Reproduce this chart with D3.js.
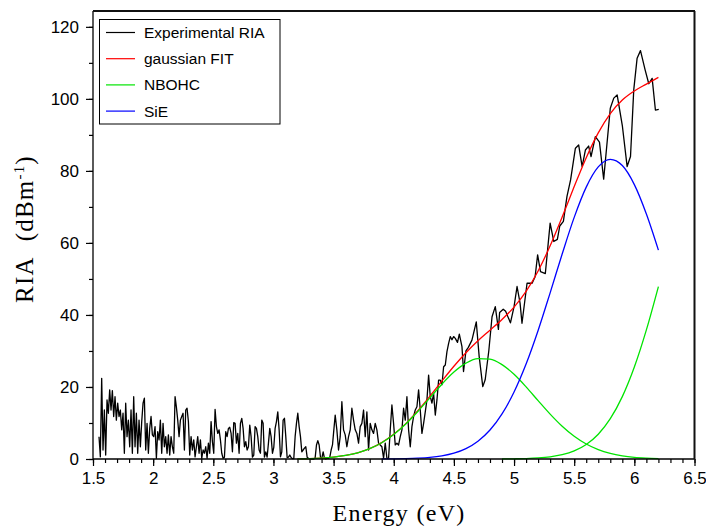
<!DOCTYPE html>
<html><head><meta charset="utf-8">
<script src="https://cdn.jsdelivr.net/npm/d3@7/dist/d3.min.js"></script>
<style>body{margin:0;background:#fff}svg{display:block}</style>
</head><body>
<svg id="chart" width="706" height="530"></svg>
<script>
// ---------- DATA ----------
// Experimental RIA, low-energy part: uniform energy grid
const lowStart = 1.55, lowStep = 0.01109;
const lowValues = [
6.2,0.6,22.4,2.5,13.6,1.1,16.4,12.7,19.2,13.6,
19.0,11.8,17.3,10.8,15.5,11.8,13.6,8.1,12.7,1.6,
15.5,6.2,10.8,3.4,13.6,1.6,17.3,3.4,12.7,1.6,
10.8,3.4,10.3,15.5,16.9,2.5,9.9,1.6,8.5,11.8,
6.7,6.2,9.0,0.2,7.6,5.3,10.8,1.6,9.9,3.4,
6.2,1.6,6.7,1.1,6.2,3.4,1.6,17.3,14.4,10.8,
6.2,10.8,11.8,12.7,2.5,13.6,14.1,10.4,1.1,6.2,
2.5,5.3,0.6,3.4,6.2,1.6,5.3,0.2,2.5,1.6,
3.4,0.2,4.4,1.6,10.4,
4.8,1.6,13.8,9.0,7.1,8.1,5.3,1.6,0.2,0.5,
7.6,6.2,8.5,8.8,7.1,2.0,10.1,9.9,4.4,7.1,
1.6,9.9,11.3,8.5,3.4,4.8,2.5,3.4,9.4,6.2,
0.5,1.1,9.0,8.5,6.2,2.5,1.6,10.8,9.9,0.5,
2.0,0.5,4.4,8.5,6.2,1.6,3.2,8.5,10.4,13.1,
8.1,0.6,2.0,10.8,11.3,6.2,0.4,0.5,1.1,0.4,
0.1,0.1,6.2,9.9,12.7,9.0,6.2,2.0,2.5,3.0,
3.4,0.5,0.2,0,0,0,0,0.3,3.9,5.1,
3.9,0.5,0.2,2.0,0.2,0,0.2,0.2,0.5,2.5,
3.9];
// Experimental RIA, middle part
const midStart = 3.4994, midStep = 0.013866;
const midValues = [
7.1,12.2,8.1,2.5,6.2,15.9,8.1,6.7,3.4,6.2,
8.1,14.1,10.8,8.1,7.1,4.4,9.0,9.9,13.6,6.2,
13.1,2.5,9.9,8.1,7.1,9.9,8.1,4.4,3.9,3.4,
0.2,4.4,0.2,0.2,8.1,15.0,9.9,3.9,4.4,3.9,
6.2,8.1,14.1,10.8,17.3,8.1,3.4,9.0,11.8,13.6,
14.5,19.2,13.6,7.1,9.9,13.1,16.4,23.3,17.3,15.5,
18.2,12.2,16.4,21.9,21.9,20.6,25.6,26.1,29.8,32.1,
34.0,33.1,34.0,33.5];
// Experimental RIA, high-energy part
const highEnergy = [4.53,4.545,4.567,4.58,4.60,4.62,4.65,4.686,4.71,4.74,4.76,4.79,4.817,4.844,4.87,4.88,4.91,4.93,4.97,5.0,5.025,5.05,5.066,5.108,5.15,5.175,5.196,5.22,5.26,5.30,5.33,5.36,5.38,5.41,5.44,5.47,5.51,5.537,5.566,5.593,5.62,5.64,5.676,5.71,5.745,5.80,5.829,5.857,5.90,5.94,5.968,5.995,6.023,6.051,6.09,6.12,6.148,6.175,6.203];
const highValues = [32.4,34.7,31.2,24.3,30,31,33,38.1,28.5,20.1,22,30,39.5,42.3,36,40.7,41.6,41,37.8,42.3,47.9,43.3,37.7,48.8,48.8,50.6,56.7,52,51.5,65.5,60.4,61,64.7,66,72.9,77.5,86.3,87.2,81.2,85.8,86.9,84,89.5,88,77.7,97.4,100.2,101.1,92.6,81.2,84,102.5,111.3,113.4,108,104.2,105.7,96.9,97.1];

// Fitted curves sampled every 0.1 eV
const fitEnergy = [3.2,3.3,3.4,3.5,3.6,3.7,3.8,3.9,4.0,4.1,4.2,4.3,4.4,4.5,4.6,4.7,4.8,4.9,5.0,5.1,5.2,5.3,5.4,5.5,5.6,5.7,5.8,5.9,6.0,6.1,6.2];
const fitTotal = [0.06,0.13,0.27,0.53,0.98,1.71,2.86,4.55,6.85,9.82,13.41,17.42,21.64,25.75,29.51,32.83,35.78,38.75,42.17,46.52,52.19,59.2,67.21,75.64,83.67,90.56,95.93,99.67,102.19,104.11,105.97];
const nbohcValues = [0.06,0.13,0.27,0.53,0.98,1.71,2.86,4.53,6.81,9.72,13.19,16.98,20.77,24.13,26.62,27.89,27.74,26.21,23.51,20.03,16.21,12.46,9.09,6.30,4.15,2.59,1.54,0.87,0.46,0.24,0.11];
const sieValues = [null,null,null,null,null,null,null,0.02,0.04,0.10,0.22,0.44,0.87,1.62,2.89,4.94,8.04,12.52,18.6,26.36,35.69,46.14,56.93,67.1,75.5,81.1,83.2,81.48,76.19,68.03,58.0];
const highBandValues = [null,null,null,null,null,null,null,null,null,null,null,null,null,null,null,null,null,0.02,0.06,0.13,0.29,0.6,1.19,2.24,4.02,6.87,11.19,17.32,25.54,35.84,47.86];

const xTickValues = [1.5,2,2.5,3,3.5,4,4.5,5,5.5,6,6.5];
const yTickValues = [0,20,40,60,80,100,120];
const legendLabels = ["Experimental RIA","gaussian FIT","NBOHC","SiE"];
const legendColors = ["#000000","#ff0000","#00e400","#0000ff"];

// ---------- DRAW ----------
const svg = d3.select("#chart");
const L = 93, R = 694.5, T = 11, B = 459;
const x = d3.scaleLinear().domain([1.5, 6.5]).range([L, R]);
const y = d3.scaleLinear().domain([0, 124.4]).range([B, T]);

const expData = [
  ...lowValues.map((v, i) => ({e: lowStart + i * lowStep, v})),
  ...midValues.map((v, i) => ({e: midStart + i * midStep, v})),
  ...highEnergy.map((e, i) => ({e, v: highValues[i]}))
];
const fitSeries = (vals) => fitEnergy.map((e, i) => ({e, v: vals[i]}));

const line = d3.line().x(d => x(d.e)).y(d => y(d.v));
const smooth = d3.line().defined(d => d.v != null).x(d => x(d.e)).y(d => y(d.v)).curve(d3.curveMonotoneX);

// Axes
const tickFont = "'Liberation Sans', Arial, sans-serif";
const xAxis = svg.append("g").attr("transform", `translate(0,${B})`)
  .call(d3.axisBottom(x).tickValues(xTickValues).tickSizeInner(7).tickSizeOuter(0).tickPadding(6).tickFormat(d => String(d)));
const xMinor = svg.append("g").attr("transform", `translate(0,${B})`)
  .call(d3.axisBottom(x).tickValues(d3.range(15, 66).map(i => i / 10)).tickSize(4).tickFormat(""));
const yAxis = svg.append("g").attr("transform", `translate(${L},0)`)
  .call(d3.axisLeft(y).tickValues(yTickValues).tickSizeInner(7).tickSizeOuter(0).tickPadding(7));
const yMinor = svg.append("g").attr("transform", `translate(${L},0)`)
  .call(d3.axisLeft(y).tickValues(d3.range(0, 121, 10)).tickSize(4).tickFormat(""));
[xAxis, xMinor, yAxis, yMinor].forEach(g => {
  g.select(".domain").remove();
  g.selectAll("line").attr("stroke", "#000").attr("stroke-width", 1.2);
  g.selectAll("text").attr("font-family", tickFont).attr("font-size", 17).attr("fill", "#000");
});

// Data lines
svg.append("path").datum(expData).attr("d", line).attr("fill", "none").attr("stroke", "#000").attr("stroke-width", 1.3).attr("stroke-linejoin", "round");
svg.append("path").datum(fitSeries(fitTotal)).attr("d", smooth).attr("fill", "none").attr("stroke", legendColors[1]).attr("stroke-width", 1.3);
svg.append("path").datum(fitSeries(highBandValues)).attr("d", smooth).attr("fill", "none").attr("stroke", legendColors[2]).attr("stroke-width", 1.3);
svg.append("path").datum(fitSeries(nbohcValues)).attr("d", smooth).attr("fill", "none").attr("stroke", legendColors[2]).attr("stroke-width", 1.3);
svg.append("path").datum(fitSeries(sieValues)).attr("d", smooth).attr("fill", "none").attr("stroke", legendColors[3]).attr("stroke-width", 1.3);

// Frame
svg.append("line").attr("x1", L).attr("x2", L).attr("y1", T).attr("y2", B).attr("stroke", "#000").attr("stroke-width", 1.3);
svg.append("line").attr("x1", L).attr("x2", R).attr("y1", B).attr("y2", B).attr("stroke", "#000").attr("stroke-width", 1.3);
svg.append("line").attr("x1", L).attr("x2", R + 0.5).attr("y1", T).attr("y2", T).attr("stroke", "#111").attr("stroke-width", 2);
svg.append("line").attr("x1", R).attr("x2", R).attr("y1", T).attr("y2", B).attr("stroke", "#111").attr("stroke-width", 2);

// Legend
const lg = svg.append("g");
lg.append("rect").attr("x", 99.5).attr("y", 19.5).attr("width", 180.5).attr("height", 104.5)
  .attr("fill", "#fff").attr("stroke", "#000").attr("stroke-width", 1);
legendLabels.forEach((lab, i) => {
  const yy = 32.5 + i * 26.2;
  lg.append("line").attr("x1", 106).attr("x2", 135).attr("y1", yy).attr("y2", yy)
    .attr("stroke", legendColors[i]).attr("stroke-width", 1.2);
  lg.append("text").attr("x", 144).attr("y", yy + 5.5).attr("font-family", tickFont)
    .attr("font-size", 15.5).attr("fill", "#000").text(lab);
});

// Axis titles
const serif = "'Liberation Serif', 'Times New Roman', serif";
svg.append("text").attr("x", 399).attr("y", 521).attr("text-anchor", "middle")
  .attr("font-family", serif).attr("font-size", 24).attr("letter-spacing", 1.3).attr("fill", "#000")
  .text("Energy (eV)");
const yt = svg.append("text").attr("transform", "translate(33,229) rotate(-90)").attr("text-anchor", "middle")
  .attr("font-family", serif).attr("font-size", 25).attr("letter-spacing", 1.2).attr("fill", "#000");
yt.append("tspan").text("RIA\u00a0\u00a0(dBm");
yt.append("tspan").attr("dy", -9).attr("font-size", 15).text("-1");
yt.append("tspan").attr("dy", 9).text(")");
</script>
</body></html>
